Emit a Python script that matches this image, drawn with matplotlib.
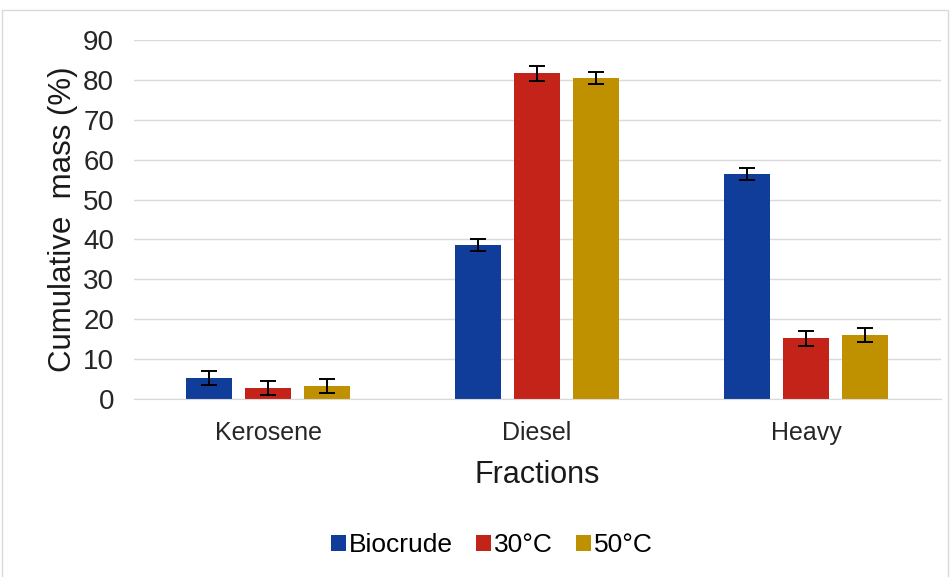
"""Cumulative mass of fractions: biocrude vs. upgraded at 30 and 50 °C."""

import numpy as np
import matplotlib.pyplot as plt

plt.rcParams["font.family"] = ["Liberation Sans", "DejaVu Sans"]

fracoes = ["Kerosene", "Diesel", "Heavy"]
series = ["Biocrude", "30°C", "50°C"]
biocrude = [5.2, 38.7, 56.4]
c30 = [2.7, 81.7, 15.2]
c50 = [3.2, 80.4, 16.0]
err_biocrude = [1.75, 1.5, 1.5]
err_c30 = [1.8, 1.9, 1.8]
err_c50 = [1.75, 1.5, 1.75]
cores = ["#0F3D99", "#C4231A", "#BF9000"]

fig = plt.figure(figsize=(9.53, 5.77), dpi=100)
ax = fig.add_axes([0.1401, 0.3085, 0.8468, 0.6222])

x = np.arange(len(fracoes))
largura = 0.170
passo = 0.219
valores = [biocrude, c30, c50]
erros = [err_biocrude, err_c30, err_c50]
for i, (nome, v, e, cor) in enumerate(zip(series, valores, erros, cores)):
    ax.bar(x + (i - 1) * passo, v, largura, color=cor, label=nome, zorder=2,
           yerr=e, capsize=6, error_kw=dict(elinewidth=1.4, capthick=1.4, ecolor="black"))

ax.set_xlim(-0.5, 2.5)
ax.set_ylim(0, 90)
ax.set_yticks(range(0, 91, 10))
ax.yaxis.grid(True, color="#D9D9D9", linewidth=1, zorder=0)
ax.set_axisbelow(True)
for lado in ["top", "right", "left"]:
    ax.spines[lado].set_visible(False)
ax.spines["bottom"].set_color("#D9D9D9")
ax.tick_params(axis="x", length=0, labelsize=18, colors="#262626", pad=16)
ax.tick_params(axis="y", length=0, labelsize=20, colors="#262626", pad=14)
ax.set_xticks(x)
ax.set_xticklabels(fracoes)

ax.set_xlabel("Fractions", fontsize=22, color="#1a1a1a", labelpad=11)
ax.set_ylabel("Cumulative  mass (%)", fontsize=22.5, color="#1a1a1a", labelpad=4)

fig.legend(loc="center", bbox_to_anchor=(0.516, 0.055), ncol=3, frameon=False,
           fontsize=19, handlelength=0.57, handleheight=0.57, handletextpad=0.12,
           columnspacing=0.87)

borda = plt.Rectangle((0.002, -0.01), 0.993, 0.993, transform=fig.transFigure,
                      fill=False, edgecolor="#D9D9D9", linewidth=1)
fig.patches.append(borda)

fig.savefig("out.png", dpi=100)
plt.close(fig)
